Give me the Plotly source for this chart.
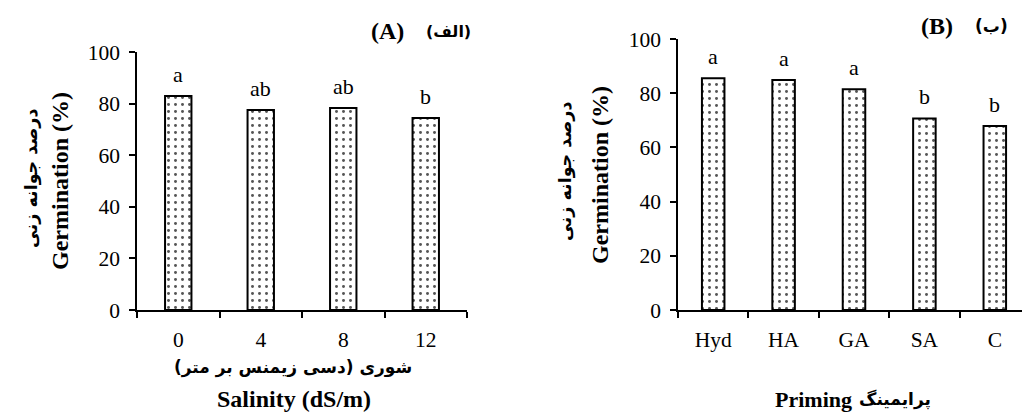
import plotly.graph_objects as go

# Panel A data
salinity = ["0", "4", "8", "12"]
germ_a = [82.9, 77.5, 78.3, 74.4]
letters_a = ["a", "ab", "ab", "b"]

# Panel B data
priming = ["Hyd", "HA", "GA", "SA", "C"]
germ_b = [85.5, 84.9, 81.5, 70.7, 67.9]
letters_b = ["a", "a", "a", "b", "b"]

y_ticks = [0, 20, 40, 60, 80, 100]

FONT = "Liberation Serif, Times New Roman, DejaVu Sans"
PFONT = "DejaVu Sans"
OFF = 8                      # page body margin in the browser
W, H = 1030 - OFF, 413 - OFF

def px(x):
    return (x - OFF) / W

def py(y):
    return (H - (y - OFF)) / H

fig = go.Figure()

bar_style = dict(
    marker=dict(
        color="white",
        line=dict(color="black", width=2),
        pattern=dict(shape=".", fgcolor="#555555", bgcolor="white", size=7, solidity=0.14),
    ),
    width=0.32,
    showlegend=False,
    hoverinfo="x+y",
)

idx_a = list(range(len(salinity)))
idx_b = list(range(len(priming)))

fig.add_trace(go.Bar(x=idx_a, y=germ_a, xaxis="x", yaxis="y", **bar_style))
fig.add_trace(go.Bar(x=idx_b, y=germ_b, xaxis="x2", yaxis="y2", **bar_style))

base = dict(
    showline=True, linecolor="black", linewidth=1.5,
    tickcolor="black", ticklen=6, tickwidth=1.5,
    showgrid=False, zeroline=False, automargin=False,
    tickfont=dict(family=FONT, size=21.5, color="black"),
)

def xaxis_def(domain, anchor, cats, idx):
    return dict(domain=domain, anchor=anchor, type="linear",
                range=[-0.5, len(cats) - 0.5],
                tickvals=idx, ticktext=cats, ticks="", ticklabelstandoff=9,
                minor=dict(tickvals=[i - 0.5 for i in range(len(cats) + 1)],
                           ticks="outside", ticklen=6, tickwidth=1.5,
                           tickcolor="black", showgrid=False),
                **base)

def yaxis_def(domain, anchor):
    return dict(domain=domain, anchor=anchor, range=[0, 100],
                tickvals=y_ticks, ticks="outside", ticklabelstandoff=5, **base)

fig.update_layout(
    template="none",
    width=W, height=H,
    margin=dict(l=0, r=0, t=0, b=0, autoexpand=False),
    paper_bgcolor="white", plot_bgcolor="white",
    showlegend=False,
    xaxis=xaxis_def([px(137), px(467)], "y", salinity, idx_a),
    yaxis=yaxis_def([py(310), py(52)], "x"),
    xaxis2=xaxis_def([px(678), 1.0], "y2", priming, idx_b),
    yaxis2=yaxis_def([py(310), py(39)], "x2"),
)

# significance letters
for i, (val, lab) in enumerate(zip(germ_a, letters_a)):
    fig.add_annotation(x=i, y=val, xref="x", yref="y", text=lab, showarrow=False,
                       yanchor="bottom", yshift=7, font=dict(family=FONT, size=22, color="black"))
for i, (val, lab) in enumerate(zip(germ_b, letters_b)):
    fig.add_annotation(x=i, y=val, xref="x2", yref="y2", text=lab, showarrow=False,
                       yanchor="bottom", yshift=7, font=dict(family=FONT, size=22, color="black"))

def txt(x, y, s, size=22, angle=0, family=FONT, bold=True):
    fig.add_annotation(x=px(x), y=py(y), xref="paper", yref="paper",
                       text=f"<b>{s}</b>" if bold else s, showarrow=False,
                       xanchor="center", yanchor="middle", textangle=angle,
                       font=dict(family=family, size=size, color="black"))

# Panel A texts
txt(387, 31, "(A)", size=24)
txt(448, 31, "(الف)", size=16, family=PFONT)
txt(60, 181, "Germination (%)", size=24, angle=-90)
txt(31, 179, "درصد جوانه زنی", size=17.5, angle=-90, family=PFONT)
txt(293, 367, "شوری (دسی زیمنس بر متر)", size=17, family=PFONT)
txt(294, 399, "Salinity (dS/m)", size=24)

# Panel B texts
txt(937, 26, "(B)", size=24)
txt(991, 26, "(ب)", size=17, family=PFONT)
txt(600, 175, "Germination (%)", size=24, angle=-90)
txt(566, 172, "درصد جوانه زنی", size=17.5, angle=-90, family=PFONT)
txt(813, 399, "Priming", size=22)
txt(895, 399, "پرایمینگ", size=17, family=PFONT)

fig.write_html("out.html")
